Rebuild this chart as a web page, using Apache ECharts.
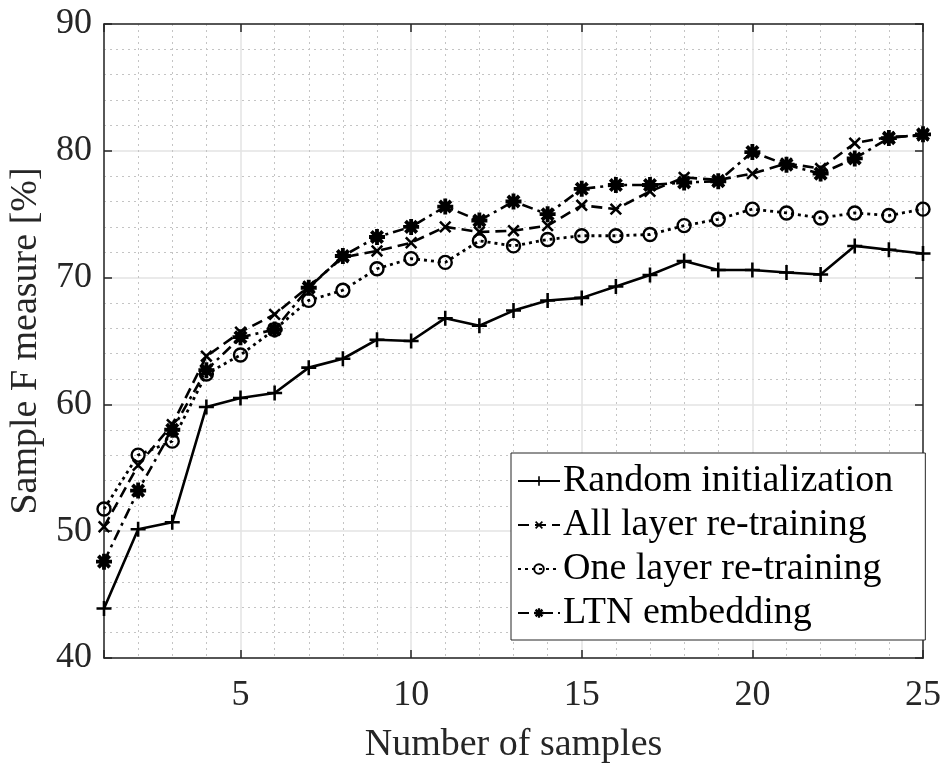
<!DOCTYPE html>
<html>
<head>
<meta charset="utf-8">
<title>Sample F measure vs number of samples</title>
<script src="https://cdn.jsdelivr.net/npm/echarts@6/dist/echarts.min.js"></script>
<style>
  html, body { margin: 0; padding: 0; background: #ffffff; }
  #chart { width: 945px; height: 766px; }
</style>
</head>
<body>
<div id="chart"></div>
<script>
// Number of training samples (x axis)
const samples = [1, 2, 3, 4, 5, 6, 7, 8, 9, 10, 11, 12, 13, 14, 15, 16, 17, 18, 19, 20, 21, 22, 23, 24, 25];

// Sample F measure [%] for each method
const randomInit = [43.9, 50.15, 50.7, 59.8, 60.5, 60.9, 62.9, 63.6, 65.1, 65.0, 66.8, 66.2, 67.4, 68.2, 68.4, 69.3, 70.2, 71.3, 70.6, 70.6, 70.4, 70.25, 72.5, 72.2, 71.9];
const allLayer   = [50.35, 55.2, 58.4, 63.8, 65.7, 67.1, 69.3, 71.6, 72.1, 72.75, 74.0, 73.6, 73.7, 74.1, 75.7, 75.4, 76.8, 77.9, 77.7, 78.2, 79.0, 78.6, 80.6, 81.1, 81.2];
const oneLayer   = [51.75, 56.0, 57.1, 62.4, 63.9, 65.9, 68.2, 69.0, 70.7, 71.5, 71.2, 72.9, 72.5, 73.0, 73.3, 73.3, 73.4, 74.1, 74.6, 75.4, 75.1, 74.7, 75.1, 74.9, 75.4];
const ltnEmbed   = [47.6, 53.2, 58.0, 62.7, 65.3, 65.9, 69.2, 71.7, 73.2, 74.0, 75.6, 74.5, 76.0, 75.0, 77.0, 77.3, 77.3, 77.5, 77.6, 79.9, 78.9, 78.2, 79.4, 81.0, 81.3];

const seriesNames = ['Random initialization', 'All layer re-training', 'One layer re-training', 'LTN embedding'];

// Axis ranges and labels
const xRange = [1, 25];
const yRange = [40, 90];
const xLabelStep = 5;
const yTickStep = 10;
const xTitle = 'Number of samples';
const yTitle = 'Sample F measure [%]';

// Marker shapes built from bars rotated about the centre
function barsPath(angles, half, len) {
  let d = '';
  angles.forEach(function (deg) {
    const a = deg * Math.PI / 180;
    const dx = Math.cos(a), dy = Math.sin(a);
    const nx = -dy, ny = dx;
    const pts = [
      [-len * dx - half * nx, -len * dy - half * ny],
      [ len * dx - half * nx,  len * dy - half * ny],
      [ len * dx + half * nx,  len * dy + half * ny],
      [-len * dx + half * nx, -len * dy + half * ny]
    ];
    d += 'M' + pts.map(p => p[0].toFixed(3) + ',' + p[1].toFixed(3)).join('L') + 'Z';
  });
  return 'path://' + d;
}
const plusSymbol = barsPath([0, 90], 1.7, 10);
const starSymbol = barsPath([0, 45, 90, 135], 2.4, 10);

const FONT = "'Liberation Serif', 'Times New Roman', Times, serif";
const TEXT_COLOR = '#262626';
const AXIS_COLOR = '#262626';

function pairs(values) {
  return samples.map((x, i) => [x, values[i]]);
}

const chart = echarts.init(document.getElementById('chart'), null, { renderer: 'canvas' });

const option = {
  animation: false,
  backgroundColor: '#ffffff',
  textStyle: { fontFamily: FONT, color: TEXT_COLOR },
  grid: { left: 104, right: 22, top: 24, bottom: 108, containLabel: false, outerBoundsMode: 'none' },
  legend: {
    show: true,
    orient: 'vertical',
    left: 511,
    top: 453,
    padding: [9, 32, 8, 6],
    itemGap: 6,
    itemWidth: 42,
    itemHeight: 12,
    backgroundColor: '#ffffff',
    borderColor: '#262626',
    borderWidth: 1,
    borderRadius: 0,
    textStyle: { fontFamily: FONT, fontSize: 38, color: '#000000', padding: [0, 0, 0, -2] },
    data: seriesNames
  },
  xAxis: [
    {
      type: 'value',
      position: 'bottom',
      min: xRange[0],
      max: xRange[1],
      splitNumber: 5,
      name: xTitle,
      nameLocation: 'middle',
      nameGap: 68,
      nameTextStyle: { fontFamily: FONT, fontSize: 38, color: TEXT_COLOR },
      axisLine: { show: true, lineStyle: { color: AXIS_COLOR, width: 1.5 } },
      axisTick: { show: true, inside: true, length: 8, lineStyle: { color: AXIS_COLOR, width: 1.5 } },
      axisLabel: {
        fontFamily: FONT, fontSize: 36, color: TEXT_COLOR, margin: 20,
        formatter: v => (v % xLabelStep === 0 ? String(v) : '')
      },
      splitLine: { show: true, lineStyle: { color: '#e3e3e3', width: 1.5 } },
      minorTick: { show: false, splitNumber: 5 },
      minorSplitLine: { show: true, lineStyle: { color: '#c4c4c4', width: 1, type: [2, 4] } }
    },
    {
      type: 'value',
      position: 'top',
      min: xRange[0],
      max: xRange[1],
      splitNumber: 5,
      axisLine: { show: true, lineStyle: { color: AXIS_COLOR, width: 1.5 } },
      axisTick: { show: true, inside: true, length: 8, lineStyle: { color: AXIS_COLOR, width: 1.5 } },
      axisLabel: { show: false },
      splitLine: { show: false }
    }
  ],
  yAxis: [
    {
      type: 'value',
      position: 'left',
      min: yRange[0],
      max: yRange[1],
      interval: yTickStep,
      name: yTitle,
      nameLocation: 'middle',
      nameGap: 55,
      nameTextStyle: { fontFamily: FONT, fontSize: 38, color: TEXT_COLOR },
      axisLine: { show: true, lineStyle: { color: AXIS_COLOR, width: 1.5 } },
      axisTick: { show: true, inside: true, length: 8, lineStyle: { color: AXIS_COLOR, width: 1.5 } },
      axisLabel: { fontFamily: FONT, fontSize: 36, color: TEXT_COLOR, margin: 12 },
      splitLine: { show: true, lineStyle: { color: '#e3e3e3', width: 1.5 } },
      minorTick: { show: false, splitNumber: 5 },
      minorSplitLine: { show: true, lineStyle: { color: '#c4c4c4', width: 1, type: [2, 4] } }
    },
    {
      type: 'value',
      position: 'right',
      min: yRange[0],
      max: yRange[1],
      interval: yTickStep,
      axisLine: { show: true, lineStyle: { color: '#5a5a5a', width: 2 } },
      axisTick: { show: true, inside: true, length: 8, lineStyle: { color: AXIS_COLOR, width: 1.5 } },
      axisLabel: { show: false },
      splitLine: { show: false }
    }
  ],
  series: [
    {
      name: seriesNames[0],
      type: 'line',
      data: pairs(randomInit),
      symbol: plusSymbol,
      symbolSize: 15,
      showAllSymbol: true,
      lineStyle: { color: '#000000', width: 2.6, type: 'solid' },
      itemStyle: { color: '#000000' },
      z: 5
    },
    {
      name: seriesNames[1],
      type: 'line',
      data: pairs(allLayer),
      symbol: plusSymbol,
      symbolRotate: 45,
      symbolSize: 15,
      showAllSymbol: true,
      lineStyle: { color: '#000000', width: 2.6, type: [11, 6] },
      itemStyle: { color: '#000000' },
      z: 4
    },
    {
      name: seriesNames[2],
      type: 'line',
      data: pairs(oneLayer),
      symbol: 'circle',
      symbolSize: 13,
      showAllSymbol: true,
      lineStyle: { color: '#000000', width: 2.8, type: [3, 4] },
      itemStyle: { color: 'rgba(255,255,255,0)', borderColor: '#000000', borderWidth: 2.4 },
      z: 3
    },
    {
      name: seriesNames[3],
      type: 'line',
      data: pairs(ltnEmbed),
      symbol: starSymbol,
      symbolSize: 16,
      showAllSymbol: true,
      lineStyle: { color: '#000000', width: 2.6, type: [11, 5, 3, 5] },
      itemStyle: { color: '#000000' },
      z: 6
    }
  ]
};

chart.setOption(option);
</script>
</body>
</html>
